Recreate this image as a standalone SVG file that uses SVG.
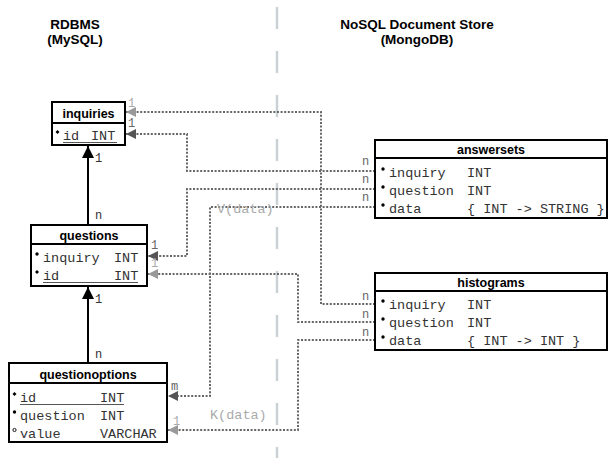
<svg xmlns="http://www.w3.org/2000/svg" width="612" height="458" viewBox="0 0 612 458">
<defs>
<style>
.hd{font-family:"Liberation Sans",Arial,sans-serif;font-weight:bold;font-size:13.5px;fill:#000;text-anchor:middle}
.tt{font-family:"Liberation Sans",Arial,sans-serif;font-weight:bold;font-size:12.5px;fill:#000;text-anchor:middle}
.f{font-family:"Liberation Mono","Courier New",monospace;font-size:13.5px;fill:#333}
.fs{font-family:"Liberation Mono","Courier New",monospace;font-size:12px;fill:#333}
.lb{font-family:"Liberation Mono","Courier New",monospace;font-size:12px;fill:#666}
.ll{font-family:"Liberation Mono","Courier New",monospace;font-size:12px;fill:#aaa}
.lv{font-family:"Liberation Mono","Courier New",monospace;font-size:13.5px;fill:#aaa}
.box{fill:#fff;stroke:#000;stroke-width:2}
.sep{stroke:#000;stroke-width:2}
.dot{fill:none;stroke:#666;stroke-width:2;stroke-dasharray:2 1.6}
.solid{fill:none;stroke:#000;stroke-width:2}
.ul{stroke:#555;stroke-width:1.2}
</style>
<marker id="ad" markerWidth="10" markerHeight="10" refX="10" refY="5" orient="auto" markerUnits="userSpaceOnUse"><path d="M0,0 L10,5 L0,10 z" fill="#555"/></marker>
<marker id="al" markerWidth="10" markerHeight="10" refX="10" refY="5" orient="auto" markerUnits="userSpaceOnUse"><path d="M0,0 L10,5 L0,10 z" fill="#999"/></marker>
<marker id="ab" markerWidth="12" markerHeight="12" refX="12" refY="6" orient="auto" markerUnits="userSpaceOnUse"><path d="M0,0 L12,6 L0,12 z" fill="#000"/></marker>
</defs>
<rect width="612" height="458" fill="#fff"/>
<line x1="277" y1="7" x2="277" y2="458" stroke="#c9d1d5" stroke-width="2.5" stroke-dasharray="22 22"/>
<g id="headers">
<text class="hd" x="75" y="29">RDBMS</text>
<text class="hd" x="75" y="44">(MySQL)</text>
<text class="hd" x="417" y="29">NoSQL Document Store</text>
<text class="hd" x="417" y="44">(MongoDB)</text>
</g>
<g id="connectors">
<path class="solid" d="M88,225 V146" marker-end="url(#ab)"/>
<path class="solid" d="M88,363 V287" marker-end="url(#ab)"/>
<path class="dot" d="M375,304 H321 V112 H126" marker-end="url(#al)"/>
<path class="dot" d="M375,171 H187 V134 H126" marker-end="url(#ad)"/>
<path class="dot" d="M375,189 H187 V256 H148" marker-end="url(#ad)"/>
<path class="dot" d="M375,207 H210 V396 H168" marker-end="url(#ad)"/>
<path class="dot" d="M375,322 H298 V274 H148" marker-end="url(#al)"/>
<path class="dot" d="M375,340 H298 V430 H168" marker-end="url(#al)"/>
<text class="fs" x="95" y="162">1</text>
<text class="fs" x="95" y="219">n</text>
<text class="fs" x="95" y="303">1</text>
<text class="fs" x="95" y="358">n</text>
<text class="ll" x="128" y="107">1</text>
<text class="lb" x="128" y="127">1</text>
<text class="lb" x="151" y="249">1</text>
<text class="ll" x="151" y="267">1</text>
<text class="lb" x="171" y="390">m</text>
<text class="ll" x="173" y="425">1</text>
<text class="lv" x="217" y="213">V(data)</text>
<text class="lv" x="210" y="419">K(data)</text>
<text class="lb" x="362" y="165">n</text>
<text class="lb" x="362" y="183">n</text>
<text class="lb" x="362" y="201">n</text>
<text class="lb" x="362" y="300">n</text>
<text class="lb" x="362" y="318">n</text>
<text class="lb" x="362" y="336">n</text>
</g>
<g id="inquiries">
<rect class="box" x="52" y="102" width="73" height="43"/>
<line class="sep" x1="52" y1="123" x2="125" y2="123"/>
<text class="tt" x="88.5" y="118">inquiries</text>
<path d="M57.5,130 l2,2 l-2,2 l-2,-2 z" fill="#000"/>
<text class="f" x="63" y="140">id</text>
<text class="f" x="91" y="140">INT</text>
<line class="ul" x1="63" y1="142.5" x2="117" y2="142.5"/>
</g>
<g id="questions">
<rect class="box" x="31" y="225" width="116" height="61"/>
<line class="sep" x1="31" y1="244" x2="147" y2="244"/>
<text class="tt" x="89" y="240">questions</text>
<circle cx="37" cy="254" r="1.7" fill="#000"/>
<text class="f" x="43" y="262">inquiry</text>
<text class="f" x="114" y="262">INT</text>
<path d="M37,270 l2,2 l-2,2 l-2,-2 z" fill="#000"/>
<text class="f" x="43" y="280">id</text>
<text class="f" x="114" y="280">INT</text>
<line class="ul" x1="43" y1="282.5" x2="138" y2="282.5"/>
</g>
<g id="questionoptions">
<rect class="box" x="9" y="363" width="158" height="79"/>
<line class="sep" x1="9" y1="383" x2="167" y2="383"/>
<text class="tt" x="88" y="379">questionoptions</text>
<path d="M14.5,392 l2,2 l-2,2 l-2,-2 z" fill="#000"/>
<text class="f" x="20" y="402">id</text>
<text class="f" x="100" y="402">INT</text>
<line class="ul" x1="20" y1="404.5" x2="124" y2="404.5"/>
<circle cx="14.5" cy="412" r="1.7" fill="#000"/>
<text class="f" x="20" y="420">question</text>
<text class="f" x="100" y="420">INT</text>
<circle cx="14.5" cy="430" r="1.6" fill="none" stroke="#000" stroke-width="0.9"/>
<text class="f" x="20" y="438">value</text>
<text class="f" x="100" y="438">VARCHAR</text>
</g>
<g id="answersets">
<rect class="box" x="375" y="140" width="232" height="78"/>
<line class="sep" x1="375" y1="158" x2="607" y2="158"/>
<text class="tt" x="491" y="154">answersets</text>
<circle cx="383" cy="169" r="1.7" fill="#000"/>
<text class="f" x="389" y="177">inquiry</text>
<text class="f" x="467" y="177">INT</text>
<circle cx="383" cy="187" r="1.7" fill="#000"/>
<text class="f" x="389" y="195">question</text>
<text class="f" x="467" y="195">INT</text>
<circle cx="383" cy="205" r="1.7" fill="#000"/>
<text class="f" x="389" y="213">data</text>
<text class="f" x="467" y="213">{ INT -&gt; STRING }</text>
</g>
<g id="histograms">
<rect class="box" x="375" y="273" width="232" height="77"/>
<line class="sep" x1="375" y1="291" x2="607" y2="291"/>
<text class="tt" x="491" y="287">histograms</text>
<circle cx="383" cy="301" r="1.7" fill="#000"/>
<text class="f" x="389" y="309">inquiry</text>
<text class="f" x="467" y="309">INT</text>
<circle cx="383" cy="319" r="1.7" fill="#000"/>
<text class="f" x="389" y="327">question</text>
<text class="f" x="467" y="327">INT</text>
<circle cx="383" cy="337" r="1.7" fill="#000"/>
<text class="f" x="389" y="345">data</text>
<text class="f" x="467" y="345">{ INT -&gt; INT }</text>
</g>
</svg>
